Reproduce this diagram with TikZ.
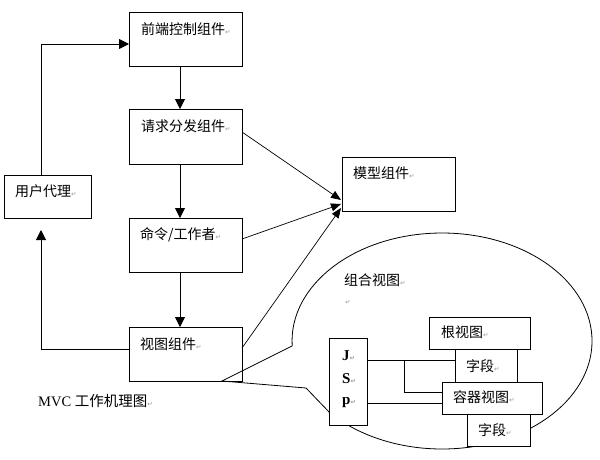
\documentclass[tikz,border=0pt]{standalone}
\usepackage{fontspec}
\setmainfont{Liberation Serif}
\newfontfamily\cjk{Noto Sans CJK SC}
\newfontfamily\djv{DejaVu Sans}
\usetikzlibrary{arrows.meta,calc}
\newcommand\rmk{{\djv\fontsize{6.5}{6.5}\selectfont\color{gray!80}↵}}
\begin{document}
\begin{tikzpicture}[x=1pt,y=-1pt,
  box/.style={draw,fill=white,line width=0.8pt,inner sep=0pt,outer sep=0pt},
  lbl/.style={anchor=west,inner sep=0pt,font=\cjk\fontsize{14}{14}\selectfont},
  ltr/.style={anchor=base west,inner sep=0pt,font=\bfseries\fontsize{15}{15}\selectfont},
  arr/.style={line width=0.8pt,-{Triangle[length=10pt,width=10pt]}},
  marr/.style={line width=0.7pt,-{Triangle[length=10pt,width=8pt]}},
  ln/.style={line width=0.8pt}]
\useasboundingbox (0,0) rectangle (600,459);
\fill[white] (0,0) rectangle (600,459);

% main boxes
\node[box,minimum width=113pt,minimum height=54pt] (fc) at (185.5,39) {};
\node[box,minimum width=113pt,minimum height=55pt] (rd) at (185.5,136.5) {};
\node[box,minimum width=113pt,minimum height=54pt] (cw) at (185.5,245) {};
\node[box,minimum width=113pt,minimum height=54pt] (vc) at (185.5,354) {};
\node[box,minimum width=87pt,minimum height=43pt] (ua) at (47.5,196.5) {};
\node[box,minimum width=113pt,minimum height=54pt] (mc) at (398.5,184) {};

% callout bubble
\draw[ln] (222,381) -- (292.2,345.9)
  arc[start angle=177.4,end angle=498.8,x radius=150,y radius=108]
  -- (306,388) -- cycle;

% inner boxes
\node[box,minimum width=38pt,minimum height=87pt] (jsp) at (348,381.5) {};
\node[box,minimum width=62pt,minimum height=33pt] (f1) at (486,365.5) {};
\node[box,minimum width=63pt,minimum height=32pt] (f2) at (498.5,430) {};
\node[box,minimum width=101pt,minimum height=32pt] (root) at (479.5,333) {};
\node[box,minimum width=100pt,minimum height=32pt] (cv) at (492,398) {};

% labels
\node[lbl] (tfc) at (141,29) {前端控制组件\rmk};
\node[lbl] (trd) at (141,126) {请求分发组件\rmk};
\node[lbl] (tcw) at (140,235) {命令/工作者\rmk};
\node[lbl] (tvc) at (140,344) {视图组件\rmk};
\node[lbl] (tua) at (15,191) {用户代理\rmk};
\node[lbl] (tmc) at (353,173) {模型组件\rmk};
\node[lbl] (tcomp) at (344,280) {组合视图\rmk};
\node[anchor=west,inner sep=0pt] (tret) at (345,302) {\rmk};
\node[lbl] (troot) at (441,332) {根视图\rmk};
\node[lbl] (tf1) at (466,366) {字段\rmk};
\node[lbl] (tcv) at (453,397) {容器视图\rmk};
\node[lbl] (tf2) at (478,430) {字段\rmk};
\node[ltr] (tJ) at (342,360) {J\rmk};
\node[ltr] (tS) at (342,383) {S\rmk};
\node[ltr] (tp) at (342,404) {p\rmk};
\node[anchor=west,inner sep=0pt,font=\fontsize{14.5}{14.5}\selectfont] (cap) at (38,401) {MVC {\cjk 工作机理图}\rmk};

% helper coordinates
\coordinate (ax) at (180,0);
\coordinate (lx) at (41,0);
\coordinate (ly) at (0,44);
\coordinate (uab) at (41,230);
\coordinate (jx) at (404,360);

% vertical flow
\draw[arr] (fc.south -| ax) -- (rd.north -| ax);
\draw[arr] (rd.south -| ax) -- (cw.north -| ax);
\draw[arr] (cw.south -| ax) -- (vc.north -| ax);

% user agent loop
\draw[arr] (ua.north -| lx) |- (fc.west |- ly);
\draw[arr] ($(vc.west)+(0,-5)$) -| (uab);

% to model
\draw[marr] ($(rd.east)+(0,-4.5)$) -- ($(mc.south west)+(-1,-11)$);
\draw[marr] ($(cw.east)+(0,-6)$) -- ($(mc.south west)+(-1,-7)$);
\draw[marr] ($(vc.east)+(0,-6)$) -- ($(mc.south west)+(-1,-3)$);

% jsp connectors
\draw[ln] (jsp.east |- jx) -- (f1.west |- jx);
\draw[ln] (jx) |- (cv.west |- 0,392);
\draw[ln] (jsp.east |- 0,403) -- (cv.west |- 0,403);
\end{tikzpicture}
\end{document}
